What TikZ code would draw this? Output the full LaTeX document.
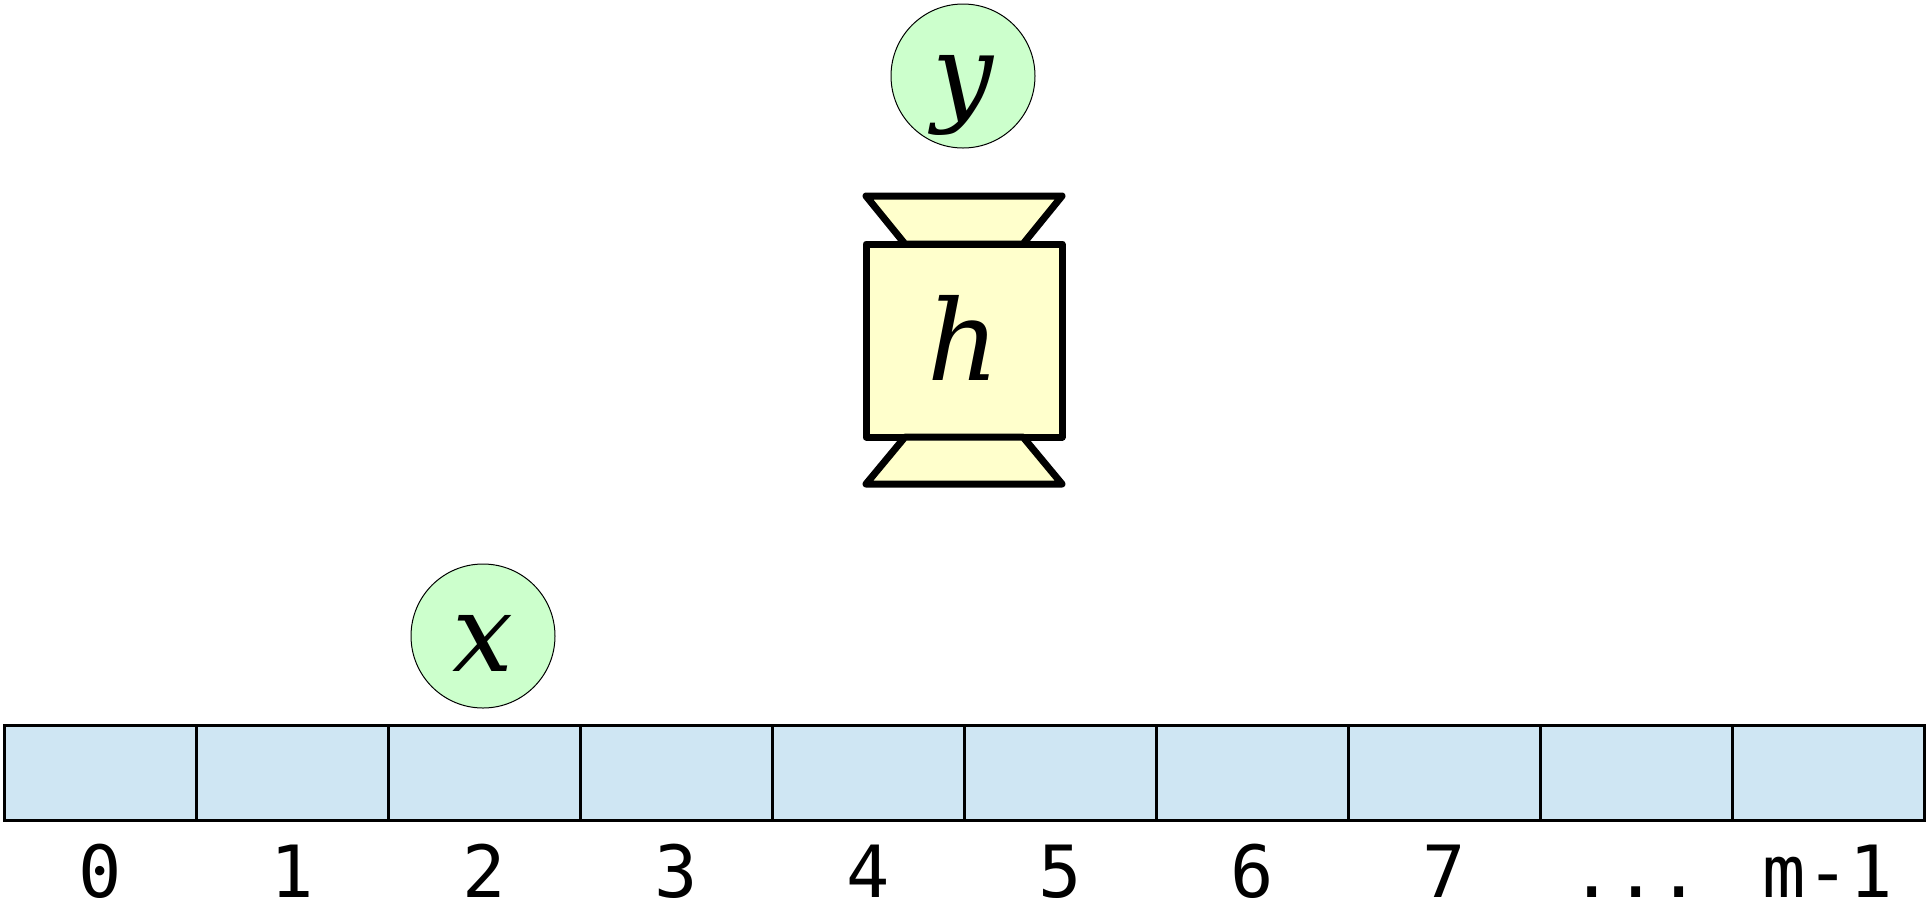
\documentclass[tikz,border=0pt]{standalone}
\usepackage{fontspec}
\setmonofont{DejaVu Sans Mono}
\newfontfamily\varfont{DejaVu Serif}
\usetikzlibrary{calc}
\definecolor{cellblue}{RGB}{207,230,243}
\definecolor{vargreen}{RGB}{204,255,204}
\definecolor{hashyellow}{RGB}{255,255,204}
\newcommand{\mydotslabel}{...}
\begin{document}
\begin{tikzpicture}[x=0.5pt,y=-0.5pt,
  cellbox/.style={draw,line width=1.5pt,fill=cellblue,minimum width=96pt,minimum height=47.5pt,inner sep=0pt,outer sep=0pt,anchor=north west},
  idx/.style={font=\fontsize{36}{40}\selectfont\ttfamily,anchor=base,inner sep=0pt,text depth=0pt},
  varnode/.style={circle,draw,line width=0.5pt,fill=vargreen,minimum size=72pt,inner sep=0pt,text height=35pt,text depth=0pt,font=\fontsize{54}{60}\selectfont\varfont\itshape},
  hashbox/.style={draw,line width=3.5pt,line join=round,fill=hashyellow,minimum width=98pt,minimum height=96.5pt,inner sep=0pt,outer sep=0pt,text height=39.5pt,text depth=0pt,font=\fontsize{56}{60}\selectfont\varfont\itshape},
  hashcap/.style={draw,line width=3.5pt,line join=round,fill=hashyellow}]
\useasboundingbox (0,0) rectangle (1928,901);
% array cells
\foreach \i/\t in {0/0,1/1,2/2,3/3,4/4,5/5,6/6,7/7,8/\mydotslabel,9/m-1}{
  \node[cellbox] (c\i) at ({4+192*\i},725) {};
  \node[idx] (l\i) at ($(c\i.south)+(0,77)$) {\t};
}
% variables
\node[varnode] (x) at (483,636) {x};
\node[varnode] (y) at (963,76) {y};
% hash function
\node[hashbox] (h) at (964,340.5) {h};
\draw[hashcap] ($(h.north west)+(39,0)$) -- ($(h.north east)+(-39,0)$) -- ($(h.north east)+(0,-48)$) -- ($(h.north west)+(0,-48)$) -- cycle;
\draw[hashcap] ($(h.south west)+(39,0)$) -- ($(h.south east)+(-39,0)$) -- ($(h.south east)+(0,47)$) -- ($(h.south west)+(0,47)$) -- cycle;
\end{tikzpicture}
\end{document}
